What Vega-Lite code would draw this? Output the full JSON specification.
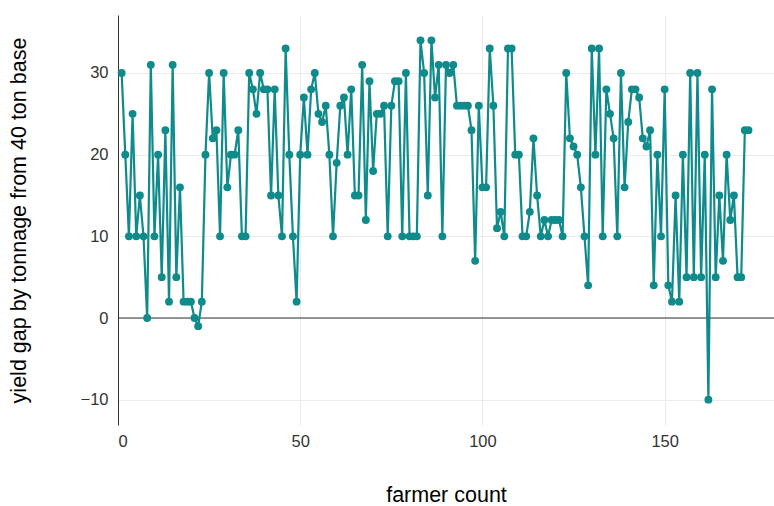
{
  "$schema": "https://vega.github.io/schema/vega-lite/v6.json",
  "autosize": "none",
  "width": 656,
  "height": 410,
  "padding": {"left": 118, "top": 15, "right": 0, "bottom": 81},
  "background": "white",
  "config": {
    "view": {"stroke": null},
    "font": "Liberation Sans",
    "axis": {"grid": true, "gridColor": "#ebebeb", "gridWidth": 1, "ticks": false, "labelColor": "#333333", "labelFontSize": 16.5, "titleFontSize": 21.5, "titleFontWeight": "normal", "titleColor": "#000000"}
  },
  "data": {"values": [
    {"farmer": 1, "gap": 30}, {"farmer": 2, "gap": 20}, {"farmer": 3, "gap": 10}, {"farmer": 4, "gap": 25}, {"farmer": 5, "gap": 10},
    {"farmer": 6, "gap": 15}, {"farmer": 7, "gap": 10}, {"farmer": 8, "gap": 0}, {"farmer": 9, "gap": 31}, {"farmer": 10, "gap": 10},
    {"farmer": 11, "gap": 20}, {"farmer": 12, "gap": 5}, {"farmer": 13, "gap": 23}, {"farmer": 14, "gap": 2}, {"farmer": 15, "gap": 31},
    {"farmer": 16, "gap": 5}, {"farmer": 17, "gap": 16}, {"farmer": 18, "gap": 2}, {"farmer": 19, "gap": 2}, {"farmer": 20, "gap": 2},
    {"farmer": 21, "gap": 0}, {"farmer": 22, "gap": -1}, {"farmer": 23, "gap": 2}, {"farmer": 24, "gap": 20}, {"farmer": 25, "gap": 30},
    {"farmer": 26, "gap": 22}, {"farmer": 27, "gap": 23}, {"farmer": 28, "gap": 10}, {"farmer": 29, "gap": 30}, {"farmer": 30, "gap": 16},
    {"farmer": 31, "gap": 20}, {"farmer": 32, "gap": 20}, {"farmer": 33, "gap": 23}, {"farmer": 34, "gap": 10}, {"farmer": 35, "gap": 10},
    {"farmer": 36, "gap": 30}, {"farmer": 37, "gap": 28}, {"farmer": 38, "gap": 25}, {"farmer": 39, "gap": 30}, {"farmer": 40, "gap": 28},
    {"farmer": 41, "gap": 28}, {"farmer": 42, "gap": 15}, {"farmer": 43, "gap": 28}, {"farmer": 44, "gap": 15}, {"farmer": 45, "gap": 10},
    {"farmer": 46, "gap": 33}, {"farmer": 47, "gap": 20}, {"farmer": 48, "gap": 10}, {"farmer": 49, "gap": 2}, {"farmer": 50, "gap": 20},
    {"farmer": 51, "gap": 27}, {"farmer": 52, "gap": 20}, {"farmer": 53, "gap": 28}, {"farmer": 54, "gap": 30}, {"farmer": 55, "gap": 25},
    {"farmer": 56, "gap": 24}, {"farmer": 57, "gap": 26}, {"farmer": 58, "gap": 20}, {"farmer": 59, "gap": 10}, {"farmer": 60, "gap": 19},
    {"farmer": 61, "gap": 26}, {"farmer": 62, "gap": 27}, {"farmer": 63, "gap": 20}, {"farmer": 64, "gap": 28}, {"farmer": 65, "gap": 15},
    {"farmer": 66, "gap": 15}, {"farmer": 67, "gap": 31}, {"farmer": 68, "gap": 12}, {"farmer": 69, "gap": 29}, {"farmer": 70, "gap": 18},
    {"farmer": 71, "gap": 25}, {"farmer": 72, "gap": 25}, {"farmer": 73, "gap": 26}, {"farmer": 74, "gap": 10}, {"farmer": 75, "gap": 26},
    {"farmer": 76, "gap": 29}, {"farmer": 77, "gap": 29}, {"farmer": 78, "gap": 10}, {"farmer": 79, "gap": 30}, {"farmer": 80, "gap": 10},
    {"farmer": 81, "gap": 10}, {"farmer": 82, "gap": 10}, {"farmer": 83, "gap": 34}, {"farmer": 84, "gap": 30}, {"farmer": 85, "gap": 15},
    {"farmer": 86, "gap": 34}, {"farmer": 87, "gap": 27}, {"farmer": 88, "gap": 31}, {"farmer": 89, "gap": 10}, {"farmer": 90, "gap": 31},
    {"farmer": 91, "gap": 30}, {"farmer": 92, "gap": 31}, {"farmer": 93, "gap": 26}, {"farmer": 94, "gap": 26}, {"farmer": 95, "gap": 26},
    {"farmer": 96, "gap": 26}, {"farmer": 97, "gap": 23}, {"farmer": 98, "gap": 7}, {"farmer": 99, "gap": 26}, {"farmer": 100, "gap": 16},
    {"farmer": 101, "gap": 16}, {"farmer": 102, "gap": 33}, {"farmer": 103, "gap": 26}, {"farmer": 104, "gap": 11}, {"farmer": 105, "gap": 13},
    {"farmer": 106, "gap": 10}, {"farmer": 107, "gap": 33}, {"farmer": 108, "gap": 33}, {"farmer": 109, "gap": 20}, {"farmer": 110, "gap": 20},
    {"farmer": 111, "gap": 10}, {"farmer": 112, "gap": 10}, {"farmer": 113, "gap": 13}, {"farmer": 114, "gap": 22}, {"farmer": 115, "gap": 15},
    {"farmer": 116, "gap": 10}, {"farmer": 117, "gap": 12}, {"farmer": 118, "gap": 10}, {"farmer": 119, "gap": 12}, {"farmer": 120, "gap": 12},
    {"farmer": 121, "gap": 12}, {"farmer": 122, "gap": 10}, {"farmer": 123, "gap": 30}, {"farmer": 124, "gap": 22}, {"farmer": 125, "gap": 21},
    {"farmer": 126, "gap": 20}, {"farmer": 127, "gap": 16}, {"farmer": 128, "gap": 10}, {"farmer": 129, "gap": 4}, {"farmer": 130, "gap": 33},
    {"farmer": 131, "gap": 20}, {"farmer": 132, "gap": 33}, {"farmer": 133, "gap": 10}, {"farmer": 134, "gap": 28}, {"farmer": 135, "gap": 25},
    {"farmer": 136, "gap": 22}, {"farmer": 137, "gap": 10}, {"farmer": 138, "gap": 30}, {"farmer": 139, "gap": 16}, {"farmer": 140, "gap": 24},
    {"farmer": 141, "gap": 28}, {"farmer": 142, "gap": 28}, {"farmer": 143, "gap": 27}, {"farmer": 144, "gap": 22}, {"farmer": 145, "gap": 21},
    {"farmer": 146, "gap": 23}, {"farmer": 147, "gap": 4}, {"farmer": 148, "gap": 20}, {"farmer": 149, "gap": 10}, {"farmer": 150, "gap": 28},
    {"farmer": 151, "gap": 4}, {"farmer": 152, "gap": 2}, {"farmer": 153, "gap": 15}, {"farmer": 154, "gap": 2}, {"farmer": 155, "gap": 20},
    {"farmer": 156, "gap": 5}, {"farmer": 157, "gap": 30}, {"farmer": 158, "gap": 5}, {"farmer": 159, "gap": 30}, {"farmer": 160, "gap": 5},
    {"farmer": 161, "gap": 20}, {"farmer": 162, "gap": -10}, {"farmer": 163, "gap": 28}, {"farmer": 164, "gap": 5}, {"farmer": 165, "gap": 15},
    {"farmer": 166, "gap": 7}, {"farmer": 167, "gap": 20}, {"farmer": 168, "gap": 12}, {"farmer": 169, "gap": 15}, {"farmer": 170, "gap": 5},
    {"farmer": 171, "gap": 5}, {"farmer": 172, "gap": 23}, {"farmer": 173, "gap": 23}
  ]},
  "encoding": {
    "x": {"field": "farmer", "type": "quantitative", "title": "farmer count",
      "scale": {"domain": [0, 180], "nice": false, "zero": false},
      "axis": {"values": [0, 50, 100, 150], "domain": false, "labelPadding": 8, "titlePadding": 35}},
    "y": {"field": "gap", "type": "quantitative", "title": "yield gap by tonnage from 40 ton base",
      "scale": {"domain": [-13.1, 37.1], "nice": false, "zero": false},
      "axis": {"values": [-10, 0, 10, 20, 30], "domain": true, "domainColor": "#333333", "domainWidth": 1, "labelPadding": 10, "titlePadding": 50}}
  },
  "layer": [
    {"mark": {"type": "rule", "color": "#333333", "strokeWidth": 1}, "data": {"values": [{"y0": 0}]}, "encoding": {"y": {"field": "y0", "type": "quantitative"}, "x": null}},
    {"mark": {"type": "line", "color": "#0F8B8B", "strokeWidth": 2.2}},
    {"mark": {"type": "point", "filled": true, "color": "#0F8B8B", "size": 62, "opacity": 1}}
  ]
}
